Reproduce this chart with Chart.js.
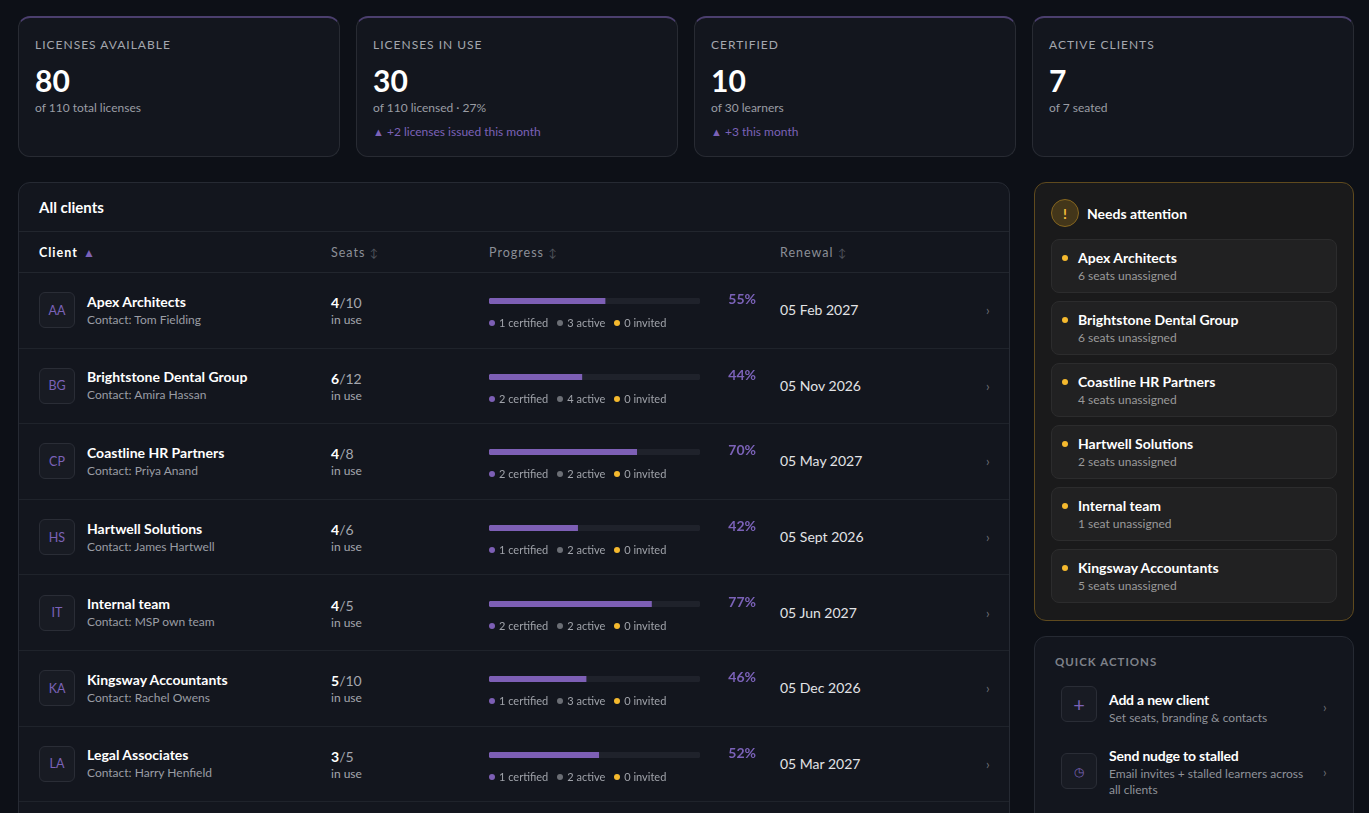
<!DOCTYPE html>
<html>
<head>
<meta charset="utf-8">
<script src="https://cdn.jsdelivr.net/npm/chart.js@4.4.0/dist/chart.umd.min.js"></script>
<style>
  * { box-sizing: border-box; margin: 0; padding: 0; }
  html, body { width: 1369px; height: 813px; overflow: hidden; background: #0d1017; font-family: Lato, "Open Sans", sans-serif; color: #e6e7ea; }
  .kpis { position: absolute; left: 18px; top: 16px; display: flex; gap: 16px; }
  .kpi { width: 322px; height: 141px; background: #13161e; border: 1px solid #282b33; border-top: 2px solid #4b3f6e; border-radius: 12px; padding: 19px 16px 0 16px; }
  .kpi .lbl { font-size: 12px; letter-spacing: 1px; color: #a4a7ae; text-transform: uppercase; height: 16px; }
  .kpi .val { font-size: 30px; font-weight: 700; color: #fff; margin-top: 9px; line-height: 36px; }
  .kpi .sub { font-size: 12px; color: #9a9da4; margin-top: 2px; line-height: 16px; }
  .kpi .trend { font-size: 12px; color: #7b62b8; margin-top: 8px; line-height: 16px; }
  .kpi .trend .tri { font-size: 11px; }

  .table-card { position: absolute; left: 18px; top: 182px; width: 992px; height: 660px; background: #13161e; border: 1px solid #262a33; border-radius: 12px; }
  .table-title { height: 49px; padding: 15px 20px 0 20px; font-size: 15px; font-weight: 700; color: #fff; border-bottom: 1px solid #22262e; }
  .grid { display: grid; grid-template-columns: 292px 158px 291px 206px 1fr; padding-left: 20px; }
  .thead { height: 41px; align-items: center; border-bottom: 1px solid #22262e; font-size: 12.5px; letter-spacing: 1px; color: #8b8f97; }
  .thead .active { color: #fff; font-weight: 700; }
  .thead .sort { color: #4f535b; font-size: 11px; letter-spacing: 0; }
  .thead .up { color: #7b62b8; font-size: 12px; margin-left: 1px; }
  .row { height: 75.6px; align-items: center; border-bottom: 1px solid #1f232b; }
  .client { display: flex; align-items: center; }
  .avatar { width: 36px; height: 36px; border: 1px solid #2a2d36; background: #181b23; border-radius: 6px; color: #7b62b8; font-size: 12.5px; display: flex; align-items: center; justify-content: center; margin-right: 12px; }
  .cname { font-size: 14px; font-weight: 700; color: #fff; line-height: 18px; }
  .contact { font-size: 12px; color: #9a9da4; line-height: 17px; }
  .seats .n { font-size: 14px; font-weight: 700; color: #fff; }
  .seats .t { font-size: 14px; color: #a4a7ae; }
  .seats .u { font-size: 12px; color: #a4a7ae; line-height: 15px; }
  .seats > div:first-child { line-height: 18px; }
  .prog { position: relative; height: 50px; }
  .bar { position: absolute; left: 0; top: 13px; width: 211px; height: 6px; }
  .pct { position: absolute; left: 0; width: 267px; text-align: right; top: 5px; font-size: 14px; font-weight: 700; color: #7b62b8; }
  .legend { position: absolute; left: 0; top: 31px; font-size: 11px; color: #a0a3aa; white-space: nowrap; }
  .legend span { margin-right: 9px; }
  .dot { display: inline-block; width: 6px; height: 6px; border-radius: 50%; margin-right: 4px; vertical-align: 1px; }
  .renew { font-size: 14px; color: #e2e3e6; margin-top: -1px; }
  .chev { color: #6a6d74; font-size: 13px; padding-left: 0; }

  .attn { position: absolute; left: 1034px; top: 182px; width: 320px; height: 439px; background: #1a1a1b; border: 1px solid #5f4a1e; border-radius: 12px; padding: 16px 16px 0 16px; }
  .attn-head { display: flex; align-items: center; height: 28px; margin-bottom: 12px; }
  .warn { width: 28px; height: 28px; border-radius: 50%; background: #43361a; border: 1px solid #86661f; color: #f3bd3a; font-weight: 700; font-size: 14px; display: flex; align-items: center; justify-content: center; margin-right: 8px; }
  .attn-head .t { font-size: 14px; font-weight: 700; color: #fff; }
  .item { position: relative; height: 54px; background: #212122; border: 1px solid #2c2c2d; border-radius: 8px; margin-bottom: 8px; padding: 9px 0 0 26px; }
  .item .d { position: absolute; left: 10px; top: 15px; width: 6px; height: 6px; border-radius: 50%; background: #f5b92e; }
  .item .n { font-size: 14px; font-weight: 700; color: #fff; line-height: 18px; }
  .item .s { font-size: 12px; color: #9a9a9a; line-height: 17px; }

  .qa { position: absolute; left: 1034px; top: 636px; width: 320px; height: 220px; background: #13161e; border: 1px solid #262a33; border-radius: 12px; padding: 18px 20px 0 20px; }
  .qa .h { font-size: 11.5px; letter-spacing: 1px; color: #7e8189; font-weight: 700; }
  .qitem { position: relative; display: flex; margin-left: 6px; }
  .qicon { width: 36px; height: 36px; border: 1px solid #2a2d36; background: #181b23; border-radius: 6px; color: #7b62b8; display: flex; align-items: center; justify-content: center; margin-right: 12px; flex-shrink: 0; }
  .qitem .n { font-size: 14px; font-weight: 700; color: #fff; line-height: 18px; letter-spacing: -0.2px; }
  .qitem .s { font-size: 12px; color: #8f9299; line-height: 16px; }
  .qitem .c { position: absolute; left: 262px; color: #6a6d74; font-size: 13px; }
</style>
</head>
<body>
<div class="kpis" id="kpis"></div>
<div class="table-card">
  <div class="table-title">All clients</div>
  <div class="grid thead">
    <div class="active">Client <span class="up">&#9650;</span></div>
    <div>Seats <span class="sort">&#8597;</span></div>
    <div>Progress <span class="sort">&#8597;</span></div>
    <div>Renewal <span class="sort">&#8597;</span></div>
    <div></div>
  </div>
  <div id="rows"></div>
</div>
<div class="attn">
  <div class="attn-head"><div class="warn">!</div><div class="t">Needs attention</div></div>
  <div id="attnList"></div>
</div>
<div class="qa">
  <div class="h">QUICK ACTIONS</div>
  <div class="qitem" style="margin-top:18px">
    <div class="qicon" style="font-size:20px">+</div>
    <div><div class="n" style="margin-top:5px">Add a new client</div><div class="s" style="margin-top:1px">Set seats, branding &amp; contacts</div></div>
    <div class="c" style="top:13px">&#8250;</div>
  </div>
  <div class="qitem" style="margin-top:27px">
    <div class="qicon" style="font-size:12px">&#9719;</div>
    <div><div class="n" style="margin-top:-6px">Send nudge to stalled</div><div class="s" style="margin-top:1px">Email invites + stalled learners across<br>all clients</div></div>
    <div class="c" style="top:11px">&#8250;</div>
  </div>
</div>

<script>
// KPI cards
const kpiLabels = ["Licenses available", "Licenses in use", "Certified", "Active clients"];
const kpiValues = [80, 30, 10, 7];
const kpiSubs = ["of 110 total licenses", "of 110 licensed · 27%", "of 30 learners", "of 7 seated"];
const kpiTrends = ["", "+2 licenses issued this month", "+3 this month", ""];

// clients table
const clients = ["Apex Architects", "Brightstone Dental Group", "Coastline HR Partners", "Hartwell Solutions", "Internal team", "Kingsway Accountants", "Legal Associates"];
const initials = ["AA", "BG", "CP", "HS", "IT", "KA", "LA"];
const contacts = ["Tom Fielding", "Amira Hassan", "Priya Anand", "James Hartwell", "MSP own team", "Rachel Owens", "Harry Henfield"];
const seatsUsed = [4, 6, 4, 4, 4, 5, 3];
const seatsTotal = [10, 12, 8, 6, 5, 10, 5];
const progress = [55, 44, 70, 42, 77, 46, 52];
const certified = [1, 2, 2, 1, 2, 1, 1];
const active = [3, 4, 2, 2, 2, 3, 2];
const invited = [0, 0, 0, 0, 0, 0, 0];
const renewals = ["05 Feb 2027", "05 Nov 2026", "05 May 2027", "05 Sept 2026", "05 Jun 2027", "05 Dec 2026", "05 Mar 2027"];

// needs attention
const attnClients = ["Apex Architects", "Brightstone Dental Group", "Coastline HR Partners", "Hartwell Solutions", "Internal team", "Kingsway Accountants"];
const attnUnassigned = [6, 6, 4, 2, 1, 5];

const purple = "#7d5fb5";
const track = "#1f222b";

const kpis = document.getElementById("kpis");
kpiLabels.forEach((l, i) => {
  const d = document.createElement("div");
  d.className = "kpi";
  d.innerHTML = `<div class="lbl">${l}</div><div class="val">${kpiValues[i]}</div><div class="sub">${kpiSubs[i]}</div>` +
    (kpiTrends[i] ? `<div class="trend"><span class="tri">&#9650;</span> ${kpiTrends[i]}</div>` : "");
  kpis.appendChild(d);
});

const rows = document.getElementById("rows");
clients.forEach((c, i) => {
  const r = document.createElement("div");
  r.className = "grid row";
  r.innerHTML = `
    <div class="client"><div class="avatar">${initials[i]}</div><div><div class="cname">${c}</div><div class="contact">Contact: ${contacts[i]}</div></div></div>
    <div class="seats"><div><span class="n">${seatsUsed[i]}</span><span class="t">/${seatsTotal[i]}</span></div><div class="u">in use</div></div>
    <div class="prog">
      <div class="bar"><canvas id="bar${i}"></canvas></div>
      <div class="pct">${progress[i]}%</div>
      <div class="legend"><span><i class="dot" style="background:${purple}"></i>${certified[i]} certified</span><span><i class="dot" style="background:#6b6e75"></i>${active[i]} active</span><span><i class="dot" style="background:#f5b92e"></i>${invited[i]} invited</span></div>
    </div>
    <div class="renew">${renewals[i]}</div>
    <div class="chev">&#8250;</div>`;
  rows.appendChild(r);

  // progress bar: purple fill over a full-width track
  new Chart(document.getElementById("bar" + i), {
    type: "bar",
    data: {
      labels: [c],
      datasets: [
        { data: [progress[i]], backgroundColor: purple, borderRadius: 3, borderSkipped: "right", order: 1 },
        { data: [100], backgroundColor: track, borderRadius: 3, borderSkipped: false, order: 2 }
      ]
    },
    options: {
      indexAxis: "y",
      responsive: true,
      maintainAspectRatio: false,
      animation: false,
      datasets: { bar: { grouped: false, barPercentage: 1, categoryPercentage: 1 } },
      layout: { padding: 0 },
      scales: {
        x: { display: false, min: 0, max: 100 },
        y: { display: false }
      },
      plugins: { legend: { display: false }, tooltip: { enabled: false } }
    }
  });
});

const attnList = document.getElementById("attnList");
attnClients.forEach((c, i) => {
  const d = document.createElement("div");
  d.className = "item";
  d.innerHTML = `<div class="d"></div><div class="n">${c}</div><div class="s">${attnUnassigned[i]} seat${attnUnassigned[i] === 1 ? "" : "s"} unassigned</div>`;
  attnList.appendChild(d);
});
</script>
</body>
</html>
